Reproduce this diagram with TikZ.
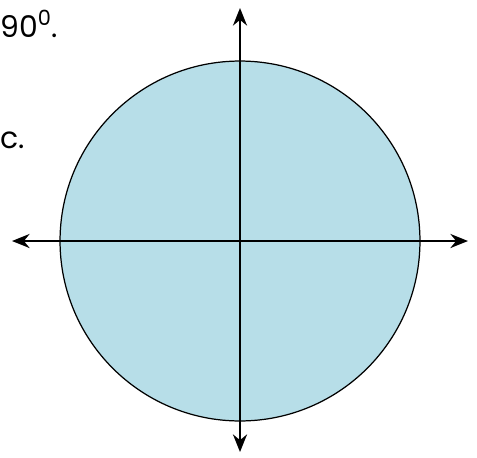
\documentclass[tikz,border=0pt]{standalone}
\usepackage{fontspec}
\setmainfont{Poppins}
\usetikzlibrary{arrows.meta,positioning}
\definecolor{discblue}{RGB}{183,222,232}

\begin{document}
\begin{tikzpicture}[
      x=0.02cm, y=-0.02cm,
      disc/.style={
        circle,
        draw=black,
        fill=discblue,
        line width=0.7pt,
        minimum size=7.2cm,
        inner sep=0pt
      },
      axis/.style={
        line width=1.3pt,
        {Stealth[length=10pt,width=8pt]}-{Stealth[length=10pt,width=8pt]}
      },
      note/.style={
        anchor=base west,
        inner sep=0pt,
        font=\fontsize{17}{20}\selectfont
      },
  ]
  \useasboundingbox (0,0) rectangle (477,457);
  \clip (0,0) rectangle (477,457);

        % text at the left edge
        \node[note] (angle) at (0,37) {90\textsuperscript{0}.};
        \node[note] (tail) at (0,148) {c.};

        % disc
        \node[disc] (disc) at (240,241) {};

        % axes
        \coordinate (top) at (240,8);
        \coordinate (bottom) at (240,452);
        \coordinate (left) at (12,241);
        \coordinate (right) at (468,241);
        \draw[axis] (bottom) -- (top);
        \draw[axis] (left) -- (right);
  \end{tikzpicture}
\end{document}
